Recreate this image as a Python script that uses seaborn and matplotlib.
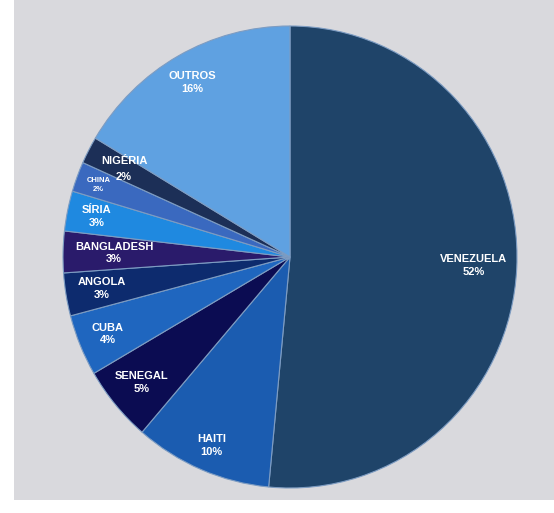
import matplotlib
matplotlib.use("Agg")
import numpy as np
import seaborn as sns
import matplotlib.pyplot as plt
from matplotlib.patches import Rectangle

# data (shares)
paises = ["VENEZUELA", "HAITI", "SENEGAL", "CUBA", "ANGOLA",
          "BANGLADESH", "SÍRIA", "CHINA", "NIGÉRIA", "OUTROS"]
percentuais = [51.5, 9.8, 5.3, 4.3, 3.0, 2.9, 2.8, 2.1, 1.9, 16.4]
cores = ["#1f4469", "#1b5cb0", "#0b0c52", "#1f66bf", "#0d2b6e",
         "#2a1b6b", "#1f89e0", "#3a69bf", "#1c2f57", "#5fa1e1"]

# label placement (fraction of radius) and size
raio_rotulo = [0.81, 0.885, 0.85, 0.87, 0.84, 0.775, 0.87, 0.90, 0.825, 0.87]
tam_rotulo = [8, 8, 8, 8, 8, 8, 8, 5.5, 8, 8]

sns.set_theme(style="white")
plt.rcParams["font.family"] = ["Liberation Sans", "DejaVu Sans"]

fig = plt.figure(figsize=(5.54, 5.13), dpi=100, facecolor="white")
fig.patches.append(Rectangle((14 / 554, 13 / 513), 1, 1, transform=fig.transFigure,
                             facecolor="#d9d9dd", edgecolor="none", zorder=-1))

rx, ry = 227, 231
cx, cy = 290, 257
ax = fig.add_axes([(cx - rx) / 554, (513 - cy - ry) / 513, 2 * rx / 554, 2 * ry / 513])
ax.set_facecolor("none")

wedges, _ = ax.pie(percentuais, colors=cores, startangle=90, counterclock=False,
                   wedgeprops=dict(edgecolor="#7d9cc2", linewidth=0.8))
ax.set_aspect("auto")
ax.set_xlim(-1, 1)
ax.set_ylim(-1, 1)
ax.axis("off")

for w, nome, pct, rr, fs in zip(wedges, paises, percentuais, raio_rotulo, tam_rotulo):
    ang = np.deg2rad((w.theta1 + w.theta2) / 2)
    x, y = rr * np.cos(ang), rr * np.sin(ang)
    rot = f"{pct:.0f}%"
    if nome == "NIGÉRIA":
        ax.text(x, y + 0.035, nome, ha="center", va="center", color="white",
                fontsize=fs, fontweight="bold")
        ax.text(x, y - 0.035, rot, ha="center", va="center",
                color="white", fontsize=fs, fontweight="bold")
    else:
        ax.text(x, y, f"{nome}\n{rot}", ha="center", va="center", color="white",
                fontsize=fs, fontweight="bold", linespacing=1.35)

fig.savefig("out.png", dpi=100, facecolor=fig.get_facecolor())
